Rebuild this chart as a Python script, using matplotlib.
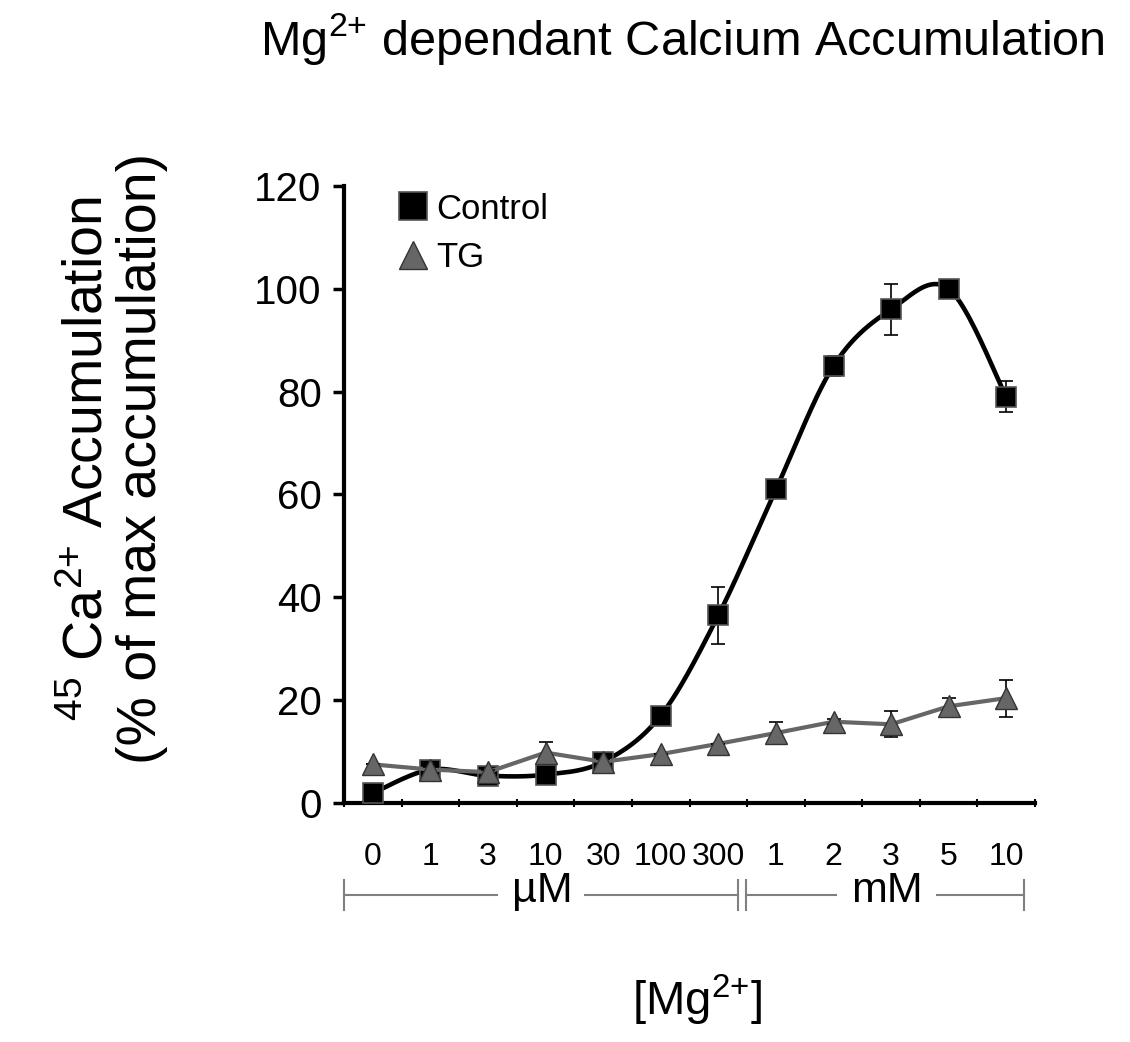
import numpy as np
import matplotlib
matplotlib.use("Agg")
import matplotlib.pyplot as plt
from matplotlib.lines import Line2D
import matplotlib.transforms as mtransforms

plt.rcParams['font.family'] = ['Liberation Sans', 'DejaVu Sans']
plt.rcParams['mathtext.fontset'] = 'custom'
plt.rcParams['mathtext.rm'] = 'Liberation Sans'
plt.rcParams['mathtext.it'] = 'Liberation Sans:italic'
plt.rcParams['mathtext.bf'] = 'Liberation Sans:bold'

# ---- data ----
categories = ["0", "1", "3", "10", "30", "100", "300", "1", "2", "3", "5", "10"]
control = [1.9, 6.5, 5.3, 5.5, 8.0, 17.0, 36.5, 61.0, 85.0, 96.0, 100.0, 79.0]
control_err = [0.0, 0.5, 0.3, 1.0, 0.5, 0.5, 5.5, 0.5, 2.0, 5.0, 0.0, 3.0]
tg = [7.5, 6.5, 6.0, 9.8, 8.0, 9.5, 11.5, 13.6, 15.8, 15.3, 18.8, 20.4]
tg_err = [0.0, 0.5, 0.5, 2.0, 0.5, 0.0, 0.0, 2.1, 0.5, 2.5, 1.7, 3.6]
yticks = [0, 20, 40, 60, 80, 100, 120]

fig = plt.figure(figsize=(11.30, 10.42), dpi=100)
ax = fig.add_axes([0.3044, 0.2294, 0.6116, 0.5921])

x = np.arange(len(categories)) + 0.5

# smooth (Catmull-Rom / Bezier) curve through the control points
def smooth(xs, ys, n=40):
    P = np.column_stack([xs, ys]).astype(float)
    P = np.vstack([P[0], P, P[-1]])
    out = []
    for i in range(1, len(P) - 2):
        p0, p1, p2, p3 = P[i - 1], P[i], P[i + 1], P[i + 2]
        c1 = p1 + (p2 - p0) / 6.0
        c2 = p2 - (p3 - p1) / 6.0
        t = np.linspace(0, 1, n)[:, None]
        seg = (1 - t) ** 3 * p1 + 3 * (1 - t) ** 2 * t * c1 + 3 * (1 - t) * t ** 2 * c2 + t ** 3 * p2
        out.append(seg if i == 1 else seg[1:])
    out = np.vstack(out)
    return out[:, 0], out[:, 1]

sx, sy = smooth(x, control)
ax.plot(sx, sy, color='black', lw=3.3, zorder=2)
ax.errorbar(x, control, yerr=control_err, fmt='none', ecolor='black',
            elinewidth=1.2, capsize=5, capthick=1.2, zorder=2.5)
ax.plot(x, control, linestyle='none', marker='s', markersize=15,
        markerfacecolor='black', markeredgecolor='#555555', markeredgewidth=1.2,
        zorder=3, label='Control')

ax.plot(x, tg, color='#666666', lw=3, zorder=4)
ax.errorbar(x, tg, yerr=tg_err, fmt='none', ecolor='black',
            elinewidth=1.2, capsize=5, capthick=1.2, zorder=4.5)
ax.plot(x, tg, linestyle='none', marker='^', markersize=16,
        markerfacecolor='#666666', markeredgecolor='#333333', markeredgewidth=1.0,
        zorder=5, label='TG')

ax.set_xlim(0, len(categories))
ax.set_ylim(0, 120)
ax.set_yticks(yticks)
ax.set_yticklabels([str(v) for v in yticks], fontsize=29)
ax.tick_params(axis='y', direction='out', length=8, width=2.5, pad=8)

ax.set_xticks(np.arange(len(categories) + 1))
ax.set_xticklabels([])
ax.tick_params(axis='x', which='major', direction='inout', length=6, width=1.5)
ax.set_xticks(x, minor=True)
ax.set_xticklabels(categories, minor=True, fontsize=23)
ax.tick_params(axis='x', which='minor', length=0, pad=28)

for s in ['top', 'right']:
    ax.spines[s].set_visible(False)
for s in ['left', 'bottom']:
    ax.spines[s].set_linewidth(3)

leg = ax.legend(loc='upper left', bbox_to_anchor=(0.03, 1.04), frameon=False,
                fontsize=25, handletextpad=0.15, labelspacing=0.45, handlelength=1.0,
                markerscale=1.3)

# unit brackets
tr = mtransforms.blended_transform_factory(ax.transData, fig.transFigure)
yb = 1 - 895 / 1042.0
dh = 0.014
gray = '#808080'
segs = [(0.0, 2.65), (4.19, 6.84), (6.98, 8.54), (10.29, 11.81)]
for a, b in segs:
    fig.add_artist(Line2D([a, b], [yb, yb], transform=tr, color=gray, lw=1.5))
for v in [0.0, 6.84, 6.98, 11.81]:
    fig.add_artist(Line2D([v, v], [yb - dh, yb + dh], transform=tr, color=gray, lw=1.5))
fig.text(3.44, yb + 0.004, 'µM', transform=tr, ha='center', va='center', fontsize=31)
fig.text(9.43, yb + 0.004, 'mM', transform=tr, ha='center', va='center', fontsize=31)

fig.text(0.604, 0.963, r'Mg$^{2{+}}$ dependant Calcium Accumulation', ha='center',
         va='center', fontsize=35)
fig.text(0.617, 0.04, r'[Mg$^{2{+}}$]', ha='center', va='center', fontsize=34)
fig.text(0.078, 0.56, r'$^{45}$ Ca$^{2{+}}$ Accumulation', rotation=90, ha='center',
         va='center', fontsize=40)
fig.text(0.126, 0.56, '(% of max accumulation)', rotation=90, ha='center',
         va='center', fontsize=40)

fig.savefig('out.png', dpi=100)
